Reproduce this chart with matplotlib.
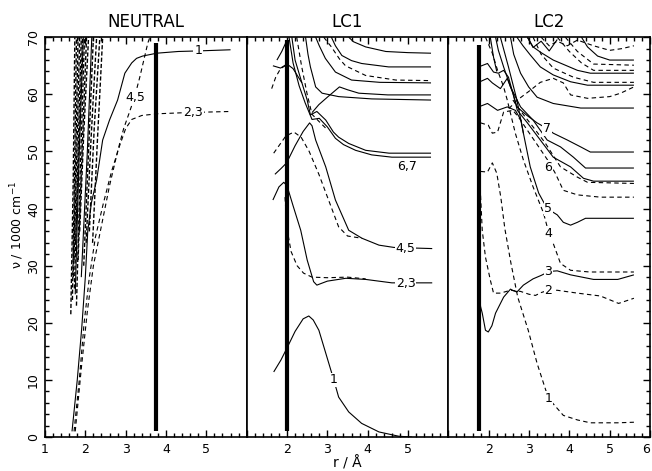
import matplotlib.pyplot as plt
from matplotlib.ticker import MultipleLocator

# ---------------- NEUTRAL ----------------
neu_1 = [(1.67, 1), (1.8, 10), (1.91, 19), (2.0, 28), (2.06, 36), (2.15, 41), (2.28, 45),
         (2.43, 52), (2.6, 55.5), (2.8, 59), (2.98, 63.7), (3.15, 65.5), (3.27, 66.3),
         (3.42, 66.7), (3.77, 67.2), (4.3, 67.5), (4.8, 67.6), (5.6, 67.8)]
neu_23 = [(1.72, 1), (1.85, 10), (1.97, 20), (2.1, 28), (2.25, 35), (2.45, 41), (2.65, 46.5),
          (2.85, 51), (3.0, 54), (3.15, 55.6), (3.4, 56.3), (3.8, 56.6), (4.5, 56.8), (5.6, 57)]
neu_45 = [(1.75, 1), (1.9, 12), (2.05, 22), (2.2, 30), (2.4, 37), (2.6, 44), (2.8, 50),
          (2.95, 54), (3.1, 57), (3.22, 59.5), (3.35, 63), (3.45, 66), (3.55, 69), (3.6, 70)]
neu_bundle = [
    [(1.64, 21.5), (1.70, 45), (1.74, 70)],
    [(1.68, 24), (1.73, 45), (1.78, 70)],
    [(1.70, 28), (1.76, 48), (1.82, 70)],
    [(1.72, 31), (1.79, 50), (1.86, 70)],
    [(1.73, 26), (1.82, 50), (1.90, 70)],
    [(1.76, 34), (1.85, 52), (1.93, 70)],
    [(1.78, 23), (1.88, 48), (1.98, 70)],
    [(1.82, 31), (1.92, 50), (2.03, 70)],
    [(1.86, 36), (1.96, 53), (2.08, 70)],
    [(1.96, 30), (2.08, 50), (2.20, 70)],
    [(2.02, 34), (2.14, 52), (2.28, 70)],
    [(2.10, 36), (2.22, 54), (2.36, 70)],
    [(2.18, 34), (2.30, 52), (2.43, 70)],
]
neu_bundle_solid = [
    [(1.75, 25), (1.85, 50), (1.95, 70)],
    [(1.90, 28), (2.05, 50), (2.16, 70)],
]

# ---------------- LC1 ----------------
lc1_1 = [(1.67, 11.4), (1.85, 13.5), (2.0, 15.6), (2.2, 18.5), (2.4, 20.7), (2.54, 21.2),
         (2.65, 20.5), (2.79, 18.7), (2.99, 14), (3.16, 10), (3.28, 7), (3.53, 4.4),
         (3.85, 2.4), (4.28, 0.9), (4.77, 0.15), (5.1, 0)]
lc1_23s = [(1.65, 41.5), (1.8, 43.8), (1.92, 44.6), (2.0, 44), (2.15, 40.5), (2.34, 36.2),
           (2.5, 31), (2.66, 27.2), (2.74, 26.6), (2.85, 26.9), (3.0, 27.3), (3.46, 27.8),
           (3.95, 27.6), (4.6, 27), (5.6, 27)]
lc1_23d = [(1.95, 42), (2.0, 36.5), (2.1, 32.5), (2.25, 30), (2.41, 28.7), (2.62, 28),
           (3.0, 27.9), (3.5, 28), (3.95, 27.7)]
lc1_45s = [(1.7, 46), (1.85, 47), (1.99, 48), (2.2, 51), (2.4, 53.5), (2.56, 55), (2.62, 54.5),
           (2.71, 52), (2.96, 47.3), (3.2, 41.5), (3.53, 36.2), (3.86, 34.8), (4.28, 33.6),
           (4.65, 33.2), (5.6, 33)]
lc1_45d = [(1.67, 49.7), (1.85, 51.5), (1.97, 52.7), (2.17, 53.4), (2.35, 52.5), (2.55, 50),
           (2.79, 46), (3.03, 41.5), (3.28, 36.8), (3.5, 35.2), (3.86, 34.8)]
lc1_67a = [(2.12, 70), (2.2, 66), (2.37, 62), (2.5, 59), (2.58, 56.4), (2.74, 57), (2.96, 55.5),
           (3.15, 53.4), (3.28, 52.5), (3.53, 51.4), (3.95, 50.2), (4.53, 49.7), (5.57, 49.7)]
lc1_67b = [(2.05, 70), (2.15, 65.5), (2.3, 61.5), (2.45, 58.5), (2.62, 55.6), (2.8, 55.8),
           (3.0, 54.3), (3.2, 52.3), (3.4, 51.2), (3.7, 50.2), (4.1, 49.4), (4.6, 49.0), (5.57, 49.0)]
lc1_steep = [(2.24, 70), (2.36, 65), (2.5, 60), (2.62, 56.5), (2.8, 55.2), (3.0, 53.8)]
lc1_u1 = [(3.53, 70), (3.65, 69.2), (3.95, 68.3), (4.45, 67.5), (5.0, 67.3), (5.57, 67.2)]
lc1_u2 = [(3.1, 70), (3.2, 68.5), (3.36, 66.8), (3.6, 65.9), (3.85, 65.4), (4.52, 64.8), (5.57, 64.8)]
lc1_u3 = [(2.91, 70), (3.1, 68.3), (3.3, 66.2), (3.45, 65), (3.95, 63.3), (4.7, 62.5), (5.57, 62.4)]
lc1_u4 = [(2.71, 70), (2.8, 68.5), (2.95, 66.3), (3.2, 63.9), (3.6, 62.5), (4.3, 62.1), (5.57, 62)]
lc1_u5 = [(2.62, 56.8), (2.79, 58.2), (3.0, 59.5), (3.3, 61.3), (3.5, 60.8), (3.78, 60.2),
          (4.5, 59.9), (5.57, 59.9)]
lc1_u6 = [(2.46, 70), (2.52, 67), (2.58, 64.8), (2.71, 61.3), (2.87, 60.2), (3.28, 59.6),
          (4.1, 59.2), (5.57, 59)]
lc1_l1 = [(1.75, 66), (1.87, 67.5), (2.0, 69.5)]
lc1_l2 = [(1.65, 65), (1.84, 64.6), (2.0, 65.3), (2.15, 64.5), (2.37, 62)]
lc1_l3 = [(1.62, 61), (1.72, 63), (1.84, 64.5), (2.0, 65.2)]

# ---------------- LC2 ----------------
lc2_1 = [(1.8, 46.5), (1.97, 46.4), (2.09, 48), (2.2, 46.2), (2.3, 42), (2.4, 36.5),
         (2.55, 30.5), (2.72, 24.5), (2.98, 18.7), (3.2, 12.9), (3.48, 6.8),
         (3.85, 3.8), (4.2, 3), (4.52, 2.5), (5.2, 2.5), (5.6, 2.6)]
lc2_2 = [(1.78, 45), (1.84, 36.2), (1.92, 31.5), (2.04, 27.5), (2.12, 25.2), (2.29, 25.2),
         (2.54, 25.7), (2.79, 25.5), (3.0, 25), (3.16, 24.8), (3.3, 25.3), (3.48, 25.7),
         (3.7, 25.7), (4.2, 25.2), (4.77, 24.7), (5.22, 23.4), (5.6, 24.3)]
lc2_3 = [(1.76, 25), (1.8, 22.8), (1.84, 21.7), (1.92, 18.7), (1.99, 18.4), (2.08, 19.5),
         (2.17, 21.7), (2.37, 24.5), (2.54, 25.9), (2.62, 25.6), (2.7, 25.4), (2.86, 26.6),
         (3.1, 27.7), (3.3, 28.3), (3.5, 29), (3.7, 29.1), (4.03, 28.4), (4.6, 27.6),
         (5.2, 27.6), (5.6, 28.4)]
lc2_4 = [(1.92, 70), (2.09, 67.2), (2.22, 64.2), (2.37, 61.3), (2.46, 59), (2.66, 53.2),
         (2.86, 48.5), (3.1, 43.8), (3.36, 39.2), (3.48, 36), (3.6, 33.9), (3.78, 30.4),
         (4.03, 29.2), (4.5, 28.9), (5.6, 28.9)]
lc2_5 = [(2.29, 70), (2.49, 64.8), (2.7, 59), (2.86, 53.2), (3.03, 47.3), (3.24, 42.7),
         (3.45, 40), (3.7, 38.9), (3.85, 37.6), (4.03, 37.1), (4.2, 37.6), (4.4, 38.3), (5.6, 38.3)]
lc2_6 = [(1.8, 55), (1.99, 54.6), (2.09, 53.2), (2.22, 53.4), (2.37, 56.9), (2.6, 57.2),
         (2.74, 56), (2.96, 53.7), (3.24, 50.8), (3.48, 48.3), (3.65, 46.2), (3.85, 43.2),
         (4.2, 42.4), (4.77, 42), (5.6, 42)]
lc2_7 = [(1.75, 64.8), (1.97, 65.4), (2.12, 63.9), (2.24, 63.7), (2.37, 64.2), (2.49, 63),
         (2.6, 60.2), (2.7, 57.8), (2.95, 56.3), (3.2, 55), (3.45, 54), (3.6, 53.2),
         (3.95, 52), (4.28, 50.8), (4.52, 49.9), (5.6, 49.9)]
lc2_b = [(2.17, 70), (2.24, 67.7), (2.37, 64.8), (2.54, 61.3), (2.79, 57.8), (3.1, 55.5),
         (3.45, 52), (3.78, 50.8), (4.1, 49), (4.4, 47.1), (5.6, 47.1)]
lc2_c = [(1.75, 62.1), (1.97, 62.8), (2.09, 62), (2.29, 61), (2.46, 62.8), (2.6, 60.2),
         (2.71, 57.2), (2.96, 55), (3.28, 52), (3.6, 49), (4.03, 47.3), (4.35, 45.3),
         (4.6, 44.8), (5.6, 44.8)]
lc2_d = [(2.6, 59), (2.8, 57), (3.1, 54.3), (3.4, 51.5), (3.78, 47.3), (4.2, 45.5),
         (4.45, 44.6), (5.6, 44.4)]
lc2_w = [(1.75, 57.8), (1.97, 58.4), (2.22, 57.2), (2.46, 57.8), (2.66, 57.2), (2.8, 55.5),
         (2.86, 53.2)]
lc2_s1 = [(2.54, 70), (2.62, 67), (2.79, 63.7), (2.99, 61.3), (3.2, 59.5), (3.6, 58.4),
          (4.28, 57.6), (5.6, 57.6)]
lc2_d1 = [(2.5, 57.5), (2.71, 59), (3.03, 60.7), (3.28, 62.1), (3.6, 62.8), (3.85, 62),
          (4.03, 59.9), (4.45, 59.3), (5.0, 59.6), (5.27, 60.2), (5.6, 61.3)]
lc2_s2 = [(2.7, 70), (2.85, 68.5), (3.03, 66.9), (3.28, 64.8), (3.6, 63.4), (4.03, 62.2),
          (4.45, 61.6), (5.6, 61.6)]
lc2_d2 = [(3.1, 70), (3.3, 67), (3.6, 64.6), (4.1, 63), (4.6, 62.1), (5.6, 62.1)]
lc2_s3 = [(2.96, 70), (3.1, 68.3), (3.3, 67.3), (3.6, 66), (4.2, 64.2), (4.52, 63.7), (5.6, 63.7)]
lc2_d3 = [(3.7, 70), (4.0, 67.5), (4.3, 65.5), (4.6, 64.2), (5.6, 64.2)]
lc2_d4 = [(3.9, 70), (4.2, 67.5), (4.6, 65.3), (5.6, 65.1)]
lc2_s4 = [(4.3, 70), (4.45, 68.3), (4.7, 66.7), (5.0, 66), (5.6, 66)]
lc2_d5 = [(3.3, 70), (3.5, 68.5), (3.7, 69.3), (3.95, 68.5), (4.2, 69.5), (4.6, 68.5),
          (5.0, 67.7), (5.3, 68.0), (5.6, 68.5)]
lc2_s5 = [(2.96, 70), (3.1, 68.2), (3.3, 69.3), (3.5, 67.6), (3.7, 69.6)]
lc2_s6 = [(2.04, 70), (2.12, 66.5), (2.2, 64)]

# thick vertical bars (r position, bottom, top) per panel
bar_r = [3.75, 2.0, 1.75]
bar_lo = [1, 1, 1]
bar_hi = [69, 69.5, 68.6]

titles = ["NEUTRAL", "LC1", "LC2"]
xlabels = [["1", "2", "3", "4", "5", ""], ["", "2", "3", "4", "5", ""], ["", "2", "3", "4", "5", "6"]]

dash = (0, (4, 3))
dense = (0, (3, 1.5))

panels = [
    {"solid": [neu_1] + neu_bundle_solid, "dashed": [neu_23, neu_45], "dense": neu_bundle,
     "labels": [("1", 4.8, 67.7), ("4,5", 3.25, 59.5), ("2,3", 4.68, 56.8)]},
    {"solid": [lc1_1, lc1_23s, lc1_45s, lc1_67a, lc1_67b, lc1_u1, lc1_u2, lc1_u4, lc1_u5,
               lc1_u6, lc1_l1, lc1_l2],
     "dashed": [lc1_23d, lc1_45d, lc1_steep, lc1_u3, lc1_l3], "dense": [],
     "labels": [("1", 3.16, 10), ("2,3", 4.94, 26.9), ("4,5", 4.94, 33.1), ("6,7", 4.97, 47.4)]},
    {"solid": [lc2_3, lc2_5, lc2_7, lc2_b, lc2_c, lc2_w, lc2_s1, lc2_s2, lc2_s3, lc2_s4,
               lc2_s5, lc2_s6],
     "dashed": [lc2_1, lc2_2, lc2_4, lc2_6, lc2_d, lc2_d1, lc2_d2, lc2_d3, lc2_d4, lc2_d5],
     "dense": [],
     "labels": [("7", 3.45, 54), ("6", 3.48, 47.2), ("5", 3.48, 40), ("4", 3.48, 35.7),
                ("3", 3.48, 29), ("2", 3.48, 25.7), ("1", 3.48, 6.8)]},
]

fig, axes = plt.subplots(1, 3, figsize=(6.52, 4.71), dpi=100, sharey=True,
                         gridspec_kw={"wspace": 0})
fig.subplots_adjust(left=0.069, right=0.997, bottom=0.072, top=0.921)


def draw(ax, pts, ls, lw=0.8):
    r, v = zip(*pts)
    ax.plot(r, v, color="black", lw=lw, linestyle=ls, solid_capstyle="butt")


for i, ax in enumerate(axes):
    p = panels[i]
    for c in p["solid"]:
        draw(ax, c, "-")
    for c in p["dashed"]:
        draw(ax, c, dash)
    for c in p["dense"]:
        draw(ax, c, dense, lw=1.0)
    ax.plot([bar_r[i], bar_r[i]], [bar_lo[i], bar_hi[i]], color="black", lw=3,
            solid_capstyle="butt")
    for txt, x, y in p["labels"]:
        ax.text(x, y, txt, fontsize=9, ha="center", va="center",
                bbox=dict(facecolor="white", edgecolor="none", pad=0.6))

    ax.set_xlim(1, 6)
    ax.set_ylim(0, 70)
    ax.set_title(titles[i], fontsize=12, pad=7)
    ax.set_xticks(range(1, 7), labels=xlabels[i])
    ax.xaxis.set_minor_locator(MultipleLocator(0.2))
    ax.tick_params(axis="x", which="both", direction="in", top=True, bottom=True,
                   labelsize=9, pad=4)
    ax.tick_params(axis="x", which="major", length=5, width=1)
    ax.tick_params(axis="x", which="minor", length=3, width=1)
    for s in ax.spines.values():
        s.set_linewidth(1.2)

# last "6" label would be cut at the figure edge
axes[2].get_xticklabels()[-1].set_ha("right")

axes[0].yaxis.set_major_locator(MultipleLocator(10))
axes[0].yaxis.set_minor_locator(MultipleLocator(2))
axes[0].tick_params(axis="y", which="both", direction="in", left=True, right=False,
                    labelsize=9, labelrotation=90)
axes[0].tick_params(axis="y", which="major", length=5, width=1)
axes[0].tick_params(axis="y", which="minor", length=3, width=1)
for lbl in axes[0].get_yticklabels():
    lbl.set_va("center")
axes[1].tick_params(axis="y", which="both", left=False, right=False)
axes[2].tick_params(axis="y", which="both", direction="in", left=False, right=True,
                    labelleft=False)
axes[2].tick_params(axis="y", which="major", length=5, width=1)
axes[2].tick_params(axis="y", which="minor", length=3, width=1)

axes[0].set_ylabel("ν / 1000 cm$^{-1}$", fontsize=9)
axes[0].yaxis.set_label_coords(-0.095, 0.53)
axes[1].set_xlabel("r / Å", fontsize=10, labelpad=0)

fig.savefig("out.png", dpi=100)
